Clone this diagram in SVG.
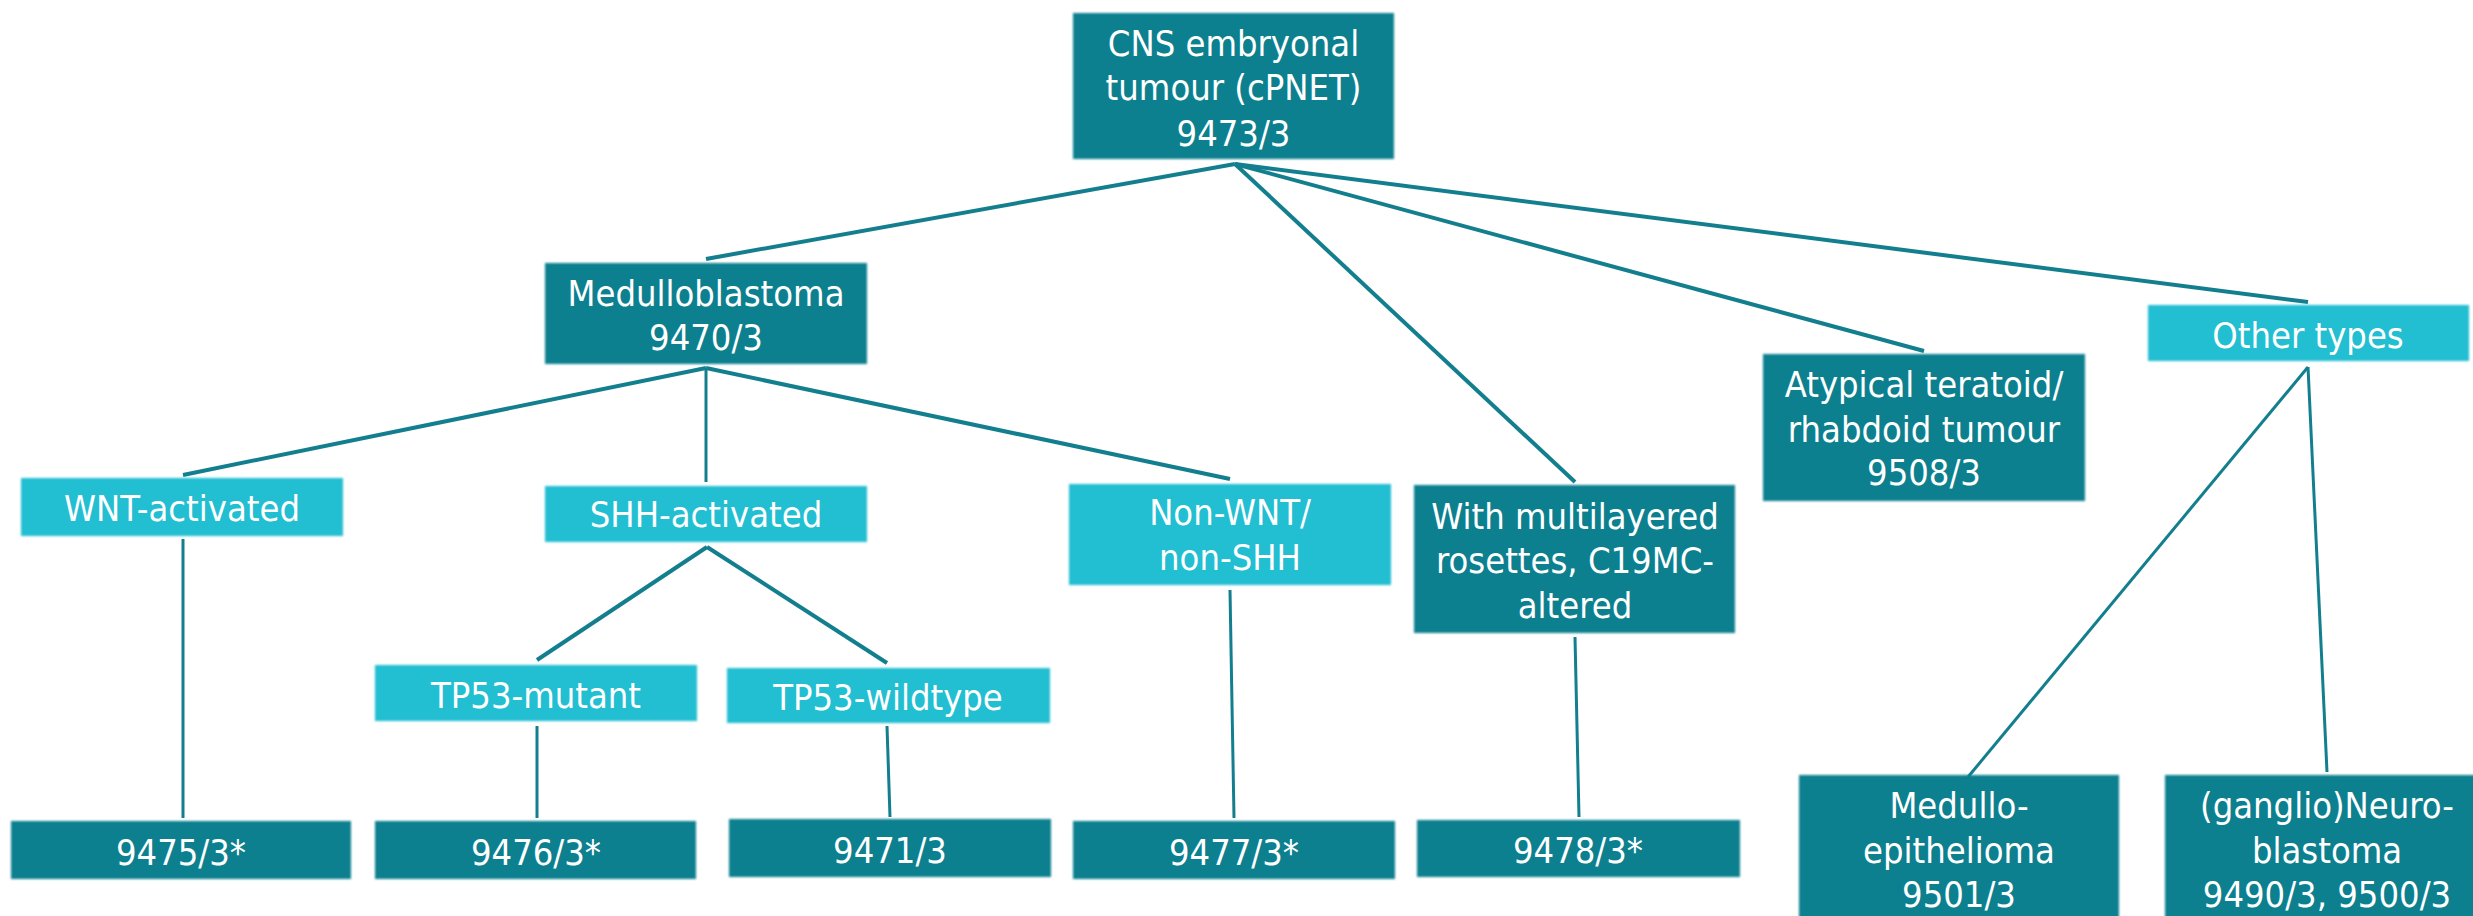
<svg xmlns="http://www.w3.org/2000/svg" width="2473" height="916" viewBox="0 0 2473 916">
<defs>
<style>
.dark{fill:#11808F;}
.light{fill:#22BED1;}
.box{filter:url(#soft);}
text{font-family:"DejaVu Sans Condensed","DejaVu Sans","Liberation Sans",sans-serif;font-stretch:condensed;font-size:36px;fill:#FFFFFF;text-anchor:middle;}
.ln{stroke:#137F8E;stroke-width:4;fill:none;}
.vl{stroke:#137F8E;stroke-width:3;fill:none;}
</style>
<filter id="soft" x="-5%" y="-5%" width="110%" height="110%"><feGaussianBlur stdDeviation="1.1"/></filter>
</defs>
<rect width="2473" height="916" fill="#FFFFFF"/>
<g id="connectors">
<line class="ln" x1="1235" y1="164" x2="706" y2="259"/>
<line class="ln" x1="1235" y1="164" x2="1575" y2="482"/>
<line class="ln" x1="1235" y1="164" x2="1924" y2="351"/>
<line class="ln" x1="1235" y1="164" x2="2308" y2="302"/>
<line class="ln" x1="706" y1="368" x2="183" y2="475"/>
<line class="vl" x1="706" y1="368" x2="706" y2="482"/>
<line class="ln" x1="706" y1="368" x2="1230" y2="479"/>
<line class="ln" x1="707" y1="547" x2="537" y2="660"/>
<line class="ln" x1="707" y1="547" x2="887" y2="663"/>
<line class="vl" x1="2308" y1="367" x2="1968" y2="777"/>
<line class="vl" x1="2308" y1="367" x2="2327" y2="772"/>
<line class="vl" x1="183" y1="539" x2="183" y2="818"/>
<line class="vl" x1="537" y1="726" x2="537" y2="818"/>
<line class="vl" x1="887" y1="726" x2="890" y2="817"/>
<line class="vl" x1="1230" y1="590" x2="1234" y2="818"/>
<line class="vl" x1="1575" y1="637" x2="1579" y2="817"/>
</g>
<g id="root"><rect class="dark box" x="1073" y="13" width="321" height="146"/><text x="1233.5" y="56">CNS embryonal</text><text x="1233.5" y="100">tumour (cPNET)</text><text x="1233.5" y="146">9473/3</text></g>
<g id="medulloblastoma"><rect class="dark box" x="545" y="263" width="322" height="101"/><text x="706" y="306">Medulloblastoma</text><text x="706" y="350">9470/3</text></g>
<g id="wnt"><rect class="light box" x="21" y="478" width="322" height="58"/><text x="182" y="521">WNT-activated</text></g>
<g id="shh"><rect class="light box" x="545" y="486" width="322" height="56"/><text x="706" y="527">SHH-activated</text></g>
<g id="nonwnt"><rect class="light box" x="1069" y="484" width="322" height="101"/><text x="1230" y="525">Non-WNT/</text><text x="1230" y="570">non-SHH</text></g>
<g id="multilayered"><rect class="dark box" x="1414" y="485" width="321" height="148"/><text x="1575" y="529">With multilayered</text><text x="1575" y="573">rosettes, C19MC-</text><text x="1575" y="618">altered</text></g>
<g id="atypical"><rect class="dark box" x="1763" y="354" width="322" height="147"/><text x="1924" y="397">Atypical teratoid/</text><text x="1924" y="442">rhabdoid tumour</text><text x="1924" y="485">9508/3</text></g>
<g id="other"><rect class="light box" x="2148" y="305" width="321" height="56"/><text x="2308" y="348">Other types</text></g>
<g id="tp53mutant"><rect class="light box" x="375" y="665" width="322" height="56"/><text x="536" y="708">TP53-mutant</text></g>
<g id="tp53wildtype"><rect class="light box" x="727" y="668" width="323" height="55"/><text x="888" y="710">TP53-wildtype</text></g>
<g id="c9475"><rect class="dark box" x="11" y="821" width="340" height="58"/><text x="181" y="865">9475/3*</text></g>
<g id="c9476"><rect class="dark box" x="375" y="821" width="321" height="58"/><text x="536" y="865">9476/3*</text></g>
<g id="c9471"><rect class="dark box" x="729" y="819" width="322" height="58"/><text x="890" y="863">9471/3</text></g>
<g id="c9477"><rect class="dark box" x="1073" y="821" width="322" height="58"/><text x="1234" y="865">9477/3*</text></g>
<g id="c9478"><rect class="dark box" x="1417" y="820" width="323" height="57"/><text x="1578" y="863">9478/3*</text></g>
<g id="medulloepithelioma"><rect class="dark box" x="1799" y="775" width="320" height="160"/><text x="1959" y="818">Medullo-</text><text x="1959" y="863">epithelioma</text><text x="1959" y="907">9501/3</text></g>
<g id="neuroblastoma"><rect class="dark box" x="2165" y="775" width="324" height="160"/><text x="2327" y="818">(ganglio)Neuro-</text><text x="2327" y="863">blastoma</text><text x="2327" y="907">9490/3, 9500/3</text></g>
</svg>
